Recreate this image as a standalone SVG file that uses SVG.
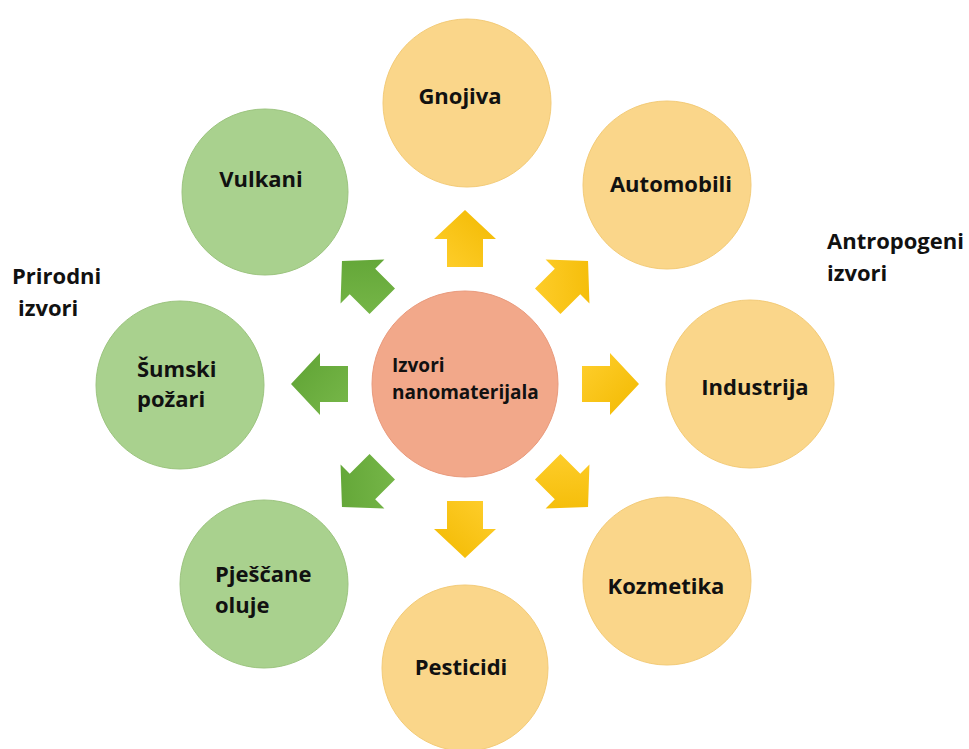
<svg xmlns="http://www.w3.org/2000/svg" width="969" height="749" viewBox="0 0 969 749">
<defs>
<linearGradient id="gy" x1="0" y1="0" x2="1" y2="1"><stop offset="0" stop-color="#FFCF2E"/><stop offset="1" stop-color="#F2B900"/></linearGradient>
<linearGradient id="gg" x1="0" y1="0" x2="1" y2="1"><stop offset="0" stop-color="#78B84A"/><stop offset="1" stop-color="#5EA233"/></linearGradient>
<polygon id="arr" points="117,-18 145,-18 145,-31 174,0 145,31 145,18 117,18"/>
<style>
.g{fill:#A9D18E;stroke:#9CC47F;stroke-width:1}
.y{fill:#FAD68A;stroke:#F3CB78;stroke-width:1}
.c{fill:#F2A88A;stroke:#E99A7C;stroke-width:1}
text{font-family:"Open Sans","DejaVu Sans",sans-serif;font-weight:bold;font-size:22px;fill:#111}
.s{font-size:19px}
.ay{fill:url(#gy)}
.ag{fill:url(#gg)}
</style>
</defs>
<rect width="969" height="749" fill="#fff"/>
<g id="connectors">
<use href="#arr" class="ay" transform="translate(465,384) rotate(-90)"/>
<use href="#arr" class="ay" transform="translate(465,384) rotate(-45)"/>
<use href="#arr" class="ay" transform="translate(465,384)"/>
<use href="#arr" class="ay" transform="translate(465,384) rotate(45)"/>
<use href="#arr" class="ay" transform="translate(465,384) rotate(90)"/>
<use href="#arr" class="ag" transform="translate(465,384) rotate(135)"/>
<use href="#arr" class="ag" transform="translate(465,384) rotate(180)"/>
<use href="#arr" class="ag" transform="translate(465,384) rotate(-135)"/>
</g>
<g id="center"><circle class="c" cx="465" cy="384" r="93"/><text class="s" x="392" y="372">Izvori</text><text class="s" x="392" y="399">nanomaterijala</text></g>
<g id="gnojiva"><circle class="y" cx="467" cy="103" r="84"/><text x="460" y="104" text-anchor="middle">Gnojiva</text></g>
<g id="automobili"><circle class="y" cx="667" cy="185" r="84"/><text x="671" y="192" text-anchor="middle">Automobili</text></g>
<g id="industrija"><circle class="y" cx="750" cy="384" r="84"/><text x="755" y="395" text-anchor="middle">Industrija</text></g>
<g id="kozmetika"><circle class="y" cx="667" cy="581" r="84"/><text x="666" y="594" text-anchor="middle">Kozmetika</text></g>
<g id="pesticidi"><circle class="y" cx="465" cy="668" r="83"/><text x="461" y="675" text-anchor="middle">Pesticidi</text></g>
<g id="pjescane"><circle class="g" cx="264" cy="584" r="84"/><text x="215" y="582">Pješčane</text><text x="215" y="613">oluje</text></g>
<g id="sumski"><circle class="g" cx="180" cy="385" r="84"/><text x="137" y="377">Šumski</text><text x="137" y="407">požari</text></g>
<g id="vulkani"><circle class="g" cx="265" cy="192" r="83"/><text x="261" y="187" text-anchor="middle">Vulkani</text></g>
<g id="prirodni"><text x="12" y="284">Prirodni</text><text x="18" y="316">izvori</text></g>
<g id="antropogeni"><text x="827" y="249">Antropogeni</text><text x="827" y="281">izvori</text></g>
</svg>
